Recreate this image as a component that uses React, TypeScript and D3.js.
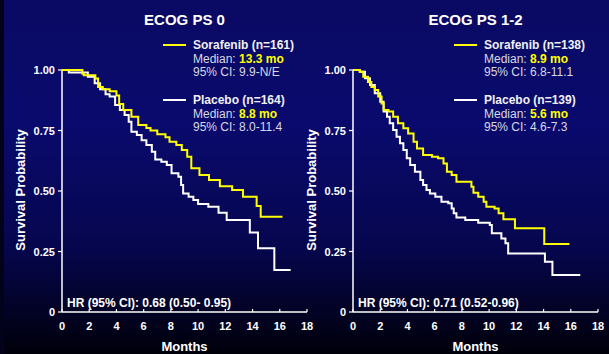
import { useEffect, useRef } from 'react';
import * as d3 from 'd3';

// Kaplan-Meier steps: [month, survival after the drop]
const ps0Sorafenib = [
  [0, 1], [1.5, 0.985], [1.6, 0.978], [2.45, 0.965], [2.65, 0.93], [3.0, 0.92],
  [3.5, 0.912], [4.0, 0.895], [4.2, 0.86], [4.5, 0.835], [5.1, 0.807], [5.6, 0.773],
  [6.2, 0.76], [6.5, 0.75], [7.0, 0.735], [7.6, 0.722], [7.9, 0.704], [8.4, 0.69],
  [8.8, 0.669], [9.2, 0.642], [9.5, 0.594], [10.1, 0.566], [10.8, 0.545], [11.6, 0.52],
  [12.5, 0.504], [13.3, 0.476], [14.3, 0.438], [14.6, 0.394], [16.2, 0.394]
];
const ps0Placebo = [
  [0, 1], [0.5, 0.99], [1.9, 0.972], [2.4, 0.945], [2.8, 0.92], [3.2, 0.9], [3.5, 0.89],
  [3.9, 0.855], [4.25, 0.835], [4.6, 0.814], [4.9, 0.786], [5.1, 0.745], [5.5, 0.731],
  [5.85, 0.71], [6.2, 0.69], [6.6, 0.662], [6.85, 0.63], [7.3, 0.621], [7.7, 0.607],
  [8.05, 0.573], [8.55, 0.559], [8.75, 0.525], [8.9, 0.49], [9.3, 0.476], [9.65, 0.463],
  [10.0, 0.446], [10.75, 0.435], [11.5, 0.41], [12.1, 0.38], [13.8, 0.328], [14.4, 0.263],
  [15.6, 0.174], [16.8, 0.174]
];
const ps12Sorafenib = [
  [0, 1], [0.5, 0.993], [0.75, 0.972], [1.1, 0.95], [1.35, 0.93], [1.6, 0.917], [1.85, 0.89],
  [2.1, 0.862], [2.25, 0.835], [2.6, 0.828], [2.95, 0.807], [3.3, 0.78], [3.7, 0.759],
  [4.05, 0.738], [4.45, 0.704], [4.7, 0.676], [5.15, 0.649], [5.8, 0.642], [6.25, 0.635],
  [6.65, 0.614], [6.9, 0.58], [7.25, 0.566], [7.6, 0.538], [8.7, 0.518], [8.85, 0.493],
  [9.2, 0.476], [9.6, 0.456], [9.8, 0.435], [10.4, 0.428], [10.7, 0.408], [11.05, 0.383],
  [11.9, 0.346], [14.05, 0.281], [15.9, 0.281]
];
const ps12Placebo = [
  [0, 1], [0.5, 0.993], [0.88, 0.966], [1.25, 0.938], [1.6, 0.904], [2.0, 0.869],
  [2.25, 0.828], [2.5, 0.807], [2.7, 0.78], [2.95, 0.752], [3.2, 0.724], [3.45, 0.697],
  [3.7, 0.669], [3.95, 0.635], [4.2, 0.607], [4.55, 0.58], [4.95, 0.545], [5.15, 0.525],
  [5.4, 0.504], [5.65, 0.49], [6.05, 0.476], [6.5, 0.456], [7.0, 0.449], [7.25, 0.428],
  [7.4, 0.408], [7.6, 0.391], [8.25, 0.38], [9.2, 0.369], [10.05, 0.36], [10.2, 0.325],
  [10.9, 0.304], [11.2, 0.284], [11.4, 0.242], [14.1, 0.208], [14.65, 0.153], [16.7, 0.153]
];

const xTicks = [0, 2, 4, 6, 8, 10, 12, 14, 16, 18];
const yTicks = [0, 0.25, 0.5, 0.75, 1];
const yTickLabels = ['0', '0.25', '0.50', '0.75', '1.00'];

const panels = [
  {
    title: 'ECOG PS 0', left: 62, sorafenib: ps0Sorafenib, placebo: ps0Placebo,
    sorN: 'Sorafenib (n=161)', sorMedian: '13.3 mo', sorCI: '95% CI: 9.9-N/E',
    plaN: 'Placebo (n=164)', plaMedian: '8.8 mo', plaCI: '95% CI: 8.0-11.4',
    hr: 'HR (95% CI): 0.68 (0.50- 0.95)'
  },
  {
    title: 'ECOG PS 1-2', left: 353, sorafenib: ps12Sorafenib, placebo: ps12Placebo,
    sorN: 'Sorafenib (n=138)', sorMedian: '8.9 mo', sorCI: '95% CI: 6.8-11.1',
    plaN: 'Placebo (n=139)', plaMedian: '5.6 mo', plaCI: '95% CI: 4.6-7.3',
    hr: 'HR (95% CI): 0.71 (0.52-0.96)'
  }
];

const W = 609;
const H = 354;
const YELLOW = '#ffff00';
const FONT = '"Liberation Sans", Arial, sans-serif';

const App = () => {
  const svgRef = useRef(null);

  useEffect(() => {
    const svg = d3.select(svgRef.current);
    svg.selectAll('*').remove();

    const defs = svg.append('defs');
    const grad = defs.append('linearGradient')
      .attr('id', 'bg').attr('x1', 0).attr('y1', 0).attr('x2', 0).attr('y2', 1);
    grad.append('stop').attr('offset', '0%').attr('stop-color', '#0a0a64');
    grad.append('stop').attr('offset', '35%').attr('stop-color', '#0a0a6e');
    grad.append('stop').attr('offset', '70%').attr('stop-color', '#06064e');
    grad.append('stop').attr('offset', '100%').attr('stop-color', '#00000a');

    svg.append('rect').attr('width', W).attr('height', H).attr('fill', 'url(#bg)');
    svg.append('rect').attr('width', 4).attr('height', H).attr('fill', '#02021a');

    const y = d3.scaleLinear().domain([0, 1]).range([312, 70]);

    panels.forEach((p) => {
      const x = d3.scaleLinear().domain([0, 18]).range([p.left, p.left + 245]);
      const cx = p.left + 122.5;
      const g = svg.append('g').style('font-family', FONT);

      // title
      g.append('text').attr('x', cx).attr('y', 25).attr('text-anchor', 'middle')
        .attr('font-size', 15).attr('font-weight', 'bold').attr('fill', '#ffffff')
        .text(p.title);

      // axes
      g.append('line').attr('x1', x(0)).attr('x2', x(0)).attr('y1', y(1)).attr('y2', y(0))
        .attr('stroke', '#ffffff').attr('stroke-width', 1.5);
      g.append('line').attr('x1', x(0)).attr('x2', x(18)).attr('y1', y(0)).attr('y2', y(0))
        .attr('stroke', '#ffffff').attr('stroke-width', 1.5);

      yTicks.forEach((t, i) => {
        g.append('line').attr('x1', x(0) - 4).attr('x2', x(0)).attr('y1', y(t)).attr('y2', y(t))
          .attr('stroke', '#ffffff').attr('stroke-width', 1.2);
        g.append('text').attr('x', x(0) - 7).attr('y', y(t) + 4).attr('text-anchor', 'end')
          .attr('font-size', 11).attr('font-weight', 'bold').attr('fill', '#ffffff')
          .text(yTickLabels[i]);
      });

      xTicks.forEach((t) => {
        g.append('line').attr('x1', x(t)).attr('x2', x(t)).attr('y1', y(0)).attr('y2', y(0) - 3)
          .attr('stroke', '#ffffff').attr('stroke-width', 1.2);
        g.append('text').attr('x', x(t)).attr('y', 330).attr('text-anchor', 'middle')
          .attr('font-size', 11).attr('font-weight', 'bold').attr('fill', '#ffffff')
          .text(t);
      });

      g.append('text').attr('x', cx).attr('y', 351).attr('text-anchor', 'middle')
        .attr('font-size', 13).attr('font-weight', 'bold').attr('fill', '#ffffff')
        .text('Months');

      g.append('text')
        .attr('transform', `translate(${p.left - 37},${190}) rotate(-90)`)
        .attr('text-anchor', 'middle').attr('font-size', 13).attr('font-weight', 'bold')
        .attr('fill', '#ffffff').text('Survival Probability');

      // curves
      const line = d3.line()
        .x(d => x(d[0]))
        .y(d => y(d[1]))
        .curve(d3.curveStepAfter);

      g.append('path').datum(p.placebo).attr('d', line).attr('fill', 'none')
        .attr('stroke', '#ffffff').attr('stroke-width', 2);
      g.append('path').datum(p.sorafenib).attr('d', line).attr('fill', 'none')
        .attr('stroke', YELLOW).attr('stroke-width', 2);

      // legend
      const lx = p.left + 101;
      const tx = p.left + 131;
      const entries = [
        { color: YELLOW, name: p.sorN, median: p.sorMedian, ci: p.sorCI, top: 49 },
        { color: '#ffffff', name: p.plaN, median: p.plaMedian, ci: p.plaCI, top: 104 }
      ];
      entries.forEach((e) => {
        g.append('line').attr('x1', lx).attr('x2', lx + 23).attr('y1', e.top - 4).attr('y2', e.top - 4)
          .attr('stroke', e.color).attr('stroke-width', 2);
        g.append('text').attr('x', tx).attr('y', e.top).attr('font-size', 12)
          .attr('font-weight', 'bold').attr('fill', '#f0f0f0').text(e.name);
        const med = g.append('text').attr('x', tx).attr('y', e.top + 13.5).attr('font-size', 12)
          .attr('fill', '#d8d8e0');
        med.append('tspan').text('Median: ');
        med.append('tspan').attr('font-weight', 'bold').attr('fill', YELLOW).text(e.median);
        g.append('text').attr('x', tx).attr('y', e.top + 27).attr('font-size', 12)
          .attr('fill', '#d8d8e0').text(e.ci);
      });

      g.append('text').attr('x', p.left + 5).attr('y', 307).attr('font-size', 12)
        .attr('font-weight', 'bold').attr('fill', '#ffffff').text(p.hr);
    });
  }, []);

  return (
    <svg
      ref={svgRef}
      width={W}
      height={H}
      style={{ position: 'absolute', left: 0, top: 0, display: 'block' }}
    />
  );
};

export default App;
